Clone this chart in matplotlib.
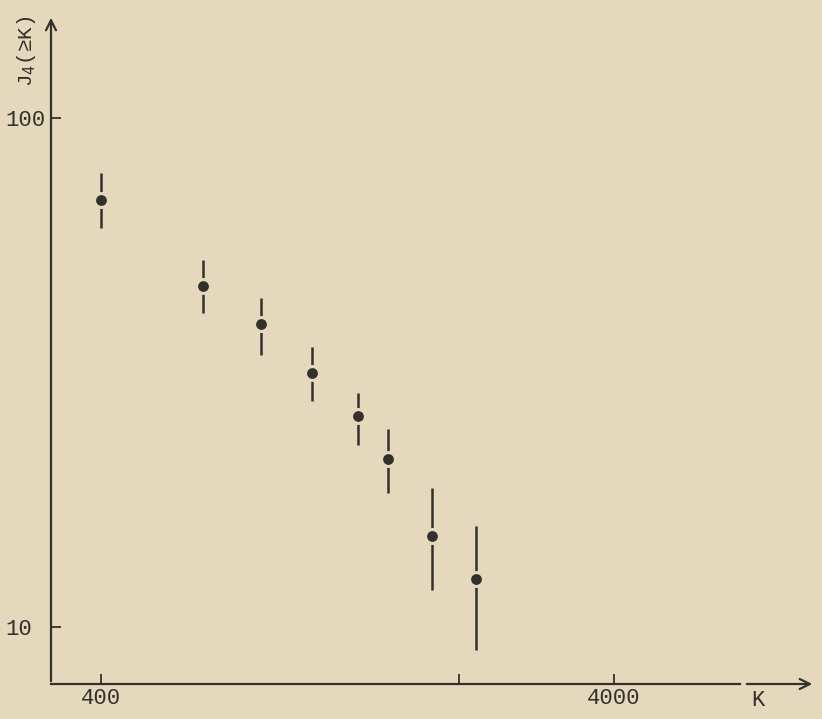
import matplotlib
matplotlib.use("Agg")
import matplotlib.pyplot as plt
import numpy as np

# data
K = [400, 632, 820, 1030, 1266, 1450, 1767, 2150]
J4 = [69.0, 46.8, 39.4, 31.5, 26.0, 21.4, 15.1, 12.4]
J4_hi = [78.0, 52.6, 44.3, 35.5, 28.8, 24.5, 18.75, 15.8]
J4_lo = [60.8, 41.4, 34.2, 27.8, 22.8, 18.3, 11.8, 9.0]

xticks = [400, 2000, 4000]
xticklabels = ["400", "", "4000"]
yticks = [10, 100]
yticklabels = ["10", "100"]

paper = "#e4d9bd"
ink = "#34302b"

fig = plt.figure(figsize=(8.22, 7.19), dpi=100, facecolor=paper)
ax = fig.add_axes([51 / 822, 1 - 684 / 719, (815 - 51) / 822, (684 - 15) / 719])
ax.set_facecolor(paper)
ax.set_xscale("log")
ax.set_yscale("log")
ax.set_xlim(320, 9860)
ax.set_ylim(7.73, 159)

for s in ax.spines.values():
    s.set_visible(False)

# hand drawn axes: y with arrow, x broken near the end then arrow
ax.annotate("", xy=(0, 1), xytext=(0, 0), xycoords="axes fraction",
            arrowprops=dict(arrowstyle="->", color=ink, lw=1.6, mutation_scale=18))
ax.plot([0, (740 - 51) / 764], [0, 0], transform=ax.transAxes, color=ink, lw=1.6, clip_on=False)
ax.annotate("", xy=(1, 0), xytext=((744 - 51) / 764, 0), xycoords="axes fraction",
            arrowprops=dict(arrowstyle="->", color=ink, lw=1.6, mutation_scale=18))

ax.set_xticks(xticks)
ax.set_xticklabels(xticklabels)
ax.set_yticks(yticks)
ax.set_yticklabels(yticklabels)
ax.minorticks_off()
ax.tick_params(direction="in", length=7, width=1.3, color=ink, labelcolor=ink)
ax.tick_params(axis="x", pad=3)
ax.tick_params(axis="y", pad=33)
for lab in ax.get_xticklabels() + ax.get_yticklabels():
    lab.set_fontfamily("Liberation Mono")
    lab.set_fontsize(16)
for lab in ax.get_yticklabels():
    lab.set_horizontalalignment("left")

# error bars with a small gap round each dot
K_arr = np.array(K)
J = np.array(J4)
ax.vlines(K_arr, J4_lo, J4_hi, color=ink, lw=1.8, zorder=2)
ax.plot(K_arr, J, "o", color=ink, ms=10, mec=paper, mew=2.2, zorder=3)

fig.text(27 / 822, 1 - 51 / 719, "J$_4$(≥K)", rotation=90, ha="center", va="center",
         fontsize=15, color=ink, family="Liberation Mono")
fig.text(758 / 822, 1 - 700 / 719, "K", ha="center", va="center",
         fontsize=16, color=ink, family="Liberation Mono")

fig.savefig("out.png", dpi=100, facecolor=paper)
